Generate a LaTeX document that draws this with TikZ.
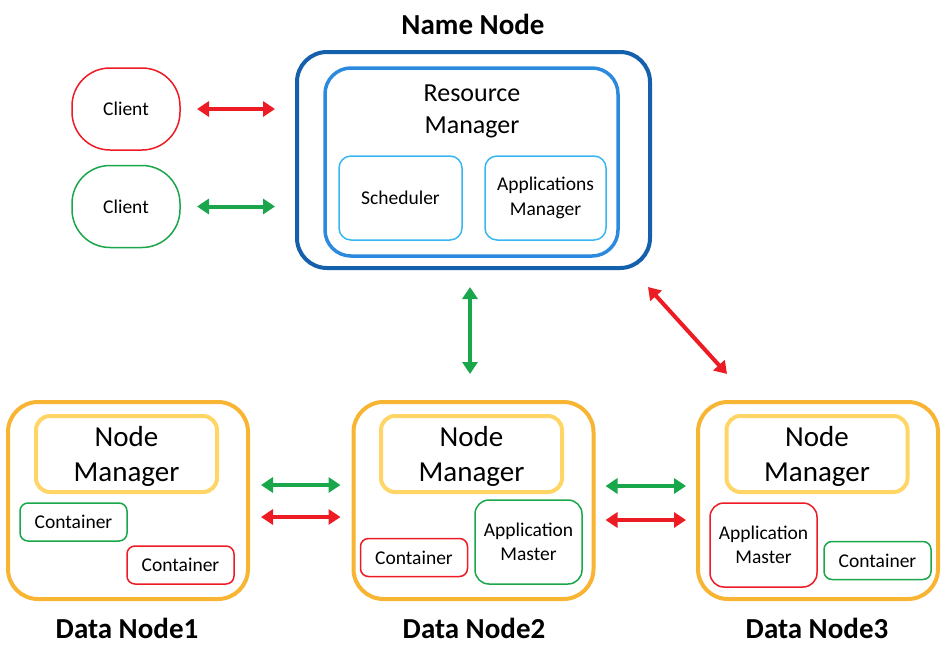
\documentclass[tikz,border=0pt]{standalone}
\usepackage{fontspec}
\setmainfont{Carlito}
\usetikzlibrary{arrows.meta}
\definecolor{nnblue}{RGB}{21,96,172}
\definecolor{rmblue}{RGB}{44,138,222}
\definecolor{subblue}{RGB}{56,182,240}
\definecolor{dnorange}{RGB}{247,181,51}
\definecolor{nmyellow}{RGB}{255,214,102}
\definecolor{cred}{RGB}{237,28,36}
\definecolor{cgreen}{RGB}{26,166,74}
\begin{document}
\begin{tikzpicture}[x=1pt,y=-1pt,
  every node/.style={inner sep=0pt, outer sep=0pt},
  nnbox/.style={draw=nnblue, line width=4pt, rounded corners=30pt},
  rmbox/.style={draw=rmblue, line width=3.5pt, rounded corners=26pt},
  subbox/.style={draw=subblue, line width=1.5pt, rounded corners=12pt, align=center, font=\fontsize{19.5}{25}\selectfont},
  clientbox/.style={draw=#1, line width=1.5pt, rounded corners=38pt, minimum width=108pt, minimum height=82pt, font=\fontsize{19.5}{24}\selectfont},
  dnbox/.style={draw=dnorange, line width=4pt, rounded corners=30pt, minimum width=240pt, minimum height=197pt},
  nmbox/.style={draw=nmyellow, line width=4pt, rounded corners=14pt, minimum width=181pt, minimum height=76pt},
  nmtext/.style={align=center, font=\fontsize{29}{35}\selectfont},
  contbox/.style={draw=#1, line width=1.5pt, rounded corners=8pt, minimum width=107pt, minimum height=38pt, font=\fontsize{19.5}{24}\selectfont},
  ambox/.style={draw=#1, line width=1.5pt, rounded corners=14pt, minimum width=107pt, minimum height=84pt, align=center, font=\fontsize{19.5}{24}\selectfont},
  title/.style={font=\bfseries\fontsize{29}{34}\selectfont},
  dbl/.style={draw=#1, line width=4pt, {Triangle[length=12pt,width=15pt]}-{Triangle[length=12pt,width=15pt]}}
]
\useasboundingbox (0,0) rectangle (946,653);

% Name node
\node[title] (nntitle) at (473,24) {Name Node};
\node[nnbox, minimum width=353pt, minimum height=216pt] (nn) at (473.5,160) {};
\node[rmbox, minimum width=293pt, minimum height=188pt] (rm) at (471.5,162) {};
\node[align=center, font=\fontsize{26}{32}\selectfont] (rmtext) at (472,111) {Resource\\Manager};
\node[subbox, minimum width=123pt, minimum height=84pt] (sched) at (400.5,198) {Scheduler};
\node[subbox, minimum width=121pt, minimum height=84pt] (appm) at (545.5,198) {Applications\\Manager};

% Clients
\node[clientbox=cred] (c1) at (126,109) {Client};
\node[clientbox=cgreen] (c2) at (126,206.5) {Client};

% Data nodes
\node[dnbox] (dn1) at (128,500.5) {};
\node[nmbox] (nm1) at (126.5,454) {};
\node[nmtext] (nm1t) at (126.5,456.5) {Node\\Manager};
\node[contbox=cgreen] (c11) at (73.5,522) {Container};
\node[contbox=cred] (c12) at (180.5,565) {Container};
\node[title] (t1) at (127,628) {Data Node1};

\node[dnbox] (dn2) at (473.5,500.5) {};
\node[nmbox] (nm2) at (471.5,454) {};
\node[nmtext] (nm2t) at (471.5,456.5) {Node\\Manager};
\node[contbox=cred] (c21) at (414,557.5) {Container};
\node[ambox=cgreen] (am2) at (528.5,542) {Application\\Master};
\node[title] (t2) at (474,628) {Data Node2};

\node[dnbox] (dn3) at (818,500.5) {};
\node[nmbox] (nm3) at (817,454) {};
\node[nmtext] (nm3t) at (817,456.5) {Node\\Manager};
\node[ambox=cred] (am3) at (763.5,545) {Application\\Master};
\node[contbox=cgreen] (c31) at (877.5,560.5) {Container};
\node[title] (t3) at (817,628) {Data Node3};

% Connectors
\draw[dbl=cred, shorten <=17pt, shorten >=22pt] (c1.east) -- (c1.east -| nn.west);
\draw[dbl=cgreen, shorten <=17pt, shorten >=22pt] (c2.east) -- (c2.east -| nn.west);
\draw[dbl=cgreen, shorten <=19pt, shorten >=28pt] ([xshift=-3.5pt]nn.south) -- ([xshift=-3.5pt]dn2.north);
\coordinate (d1) at (648,287);
\coordinate (d2) at (727,374);
\draw[dbl=cred] (d1) -- (d2);
\draw[dbl=cgreen, shorten <=13pt, shorten >=13pt] ([yshift=15.5pt]dn1.east) -- ([yshift=15.5pt]dn2.west);
\draw[dbl=cred, shorten <=13pt, shorten >=13pt] ([yshift=-16.5pt]dn1.east) -- ([yshift=-16.5pt]dn2.west);
\draw[dbl=cgreen, shorten <=12pt, shorten >=12pt] ([yshift=14.5pt]dn2.east) -- ([yshift=14.5pt]dn3.west);
\draw[dbl=cred, shorten <=12pt, shorten >=12pt] ([yshift=-19.5pt]dn2.east) -- ([yshift=-19.5pt]dn3.west);
\end{tikzpicture}
\end{document}
